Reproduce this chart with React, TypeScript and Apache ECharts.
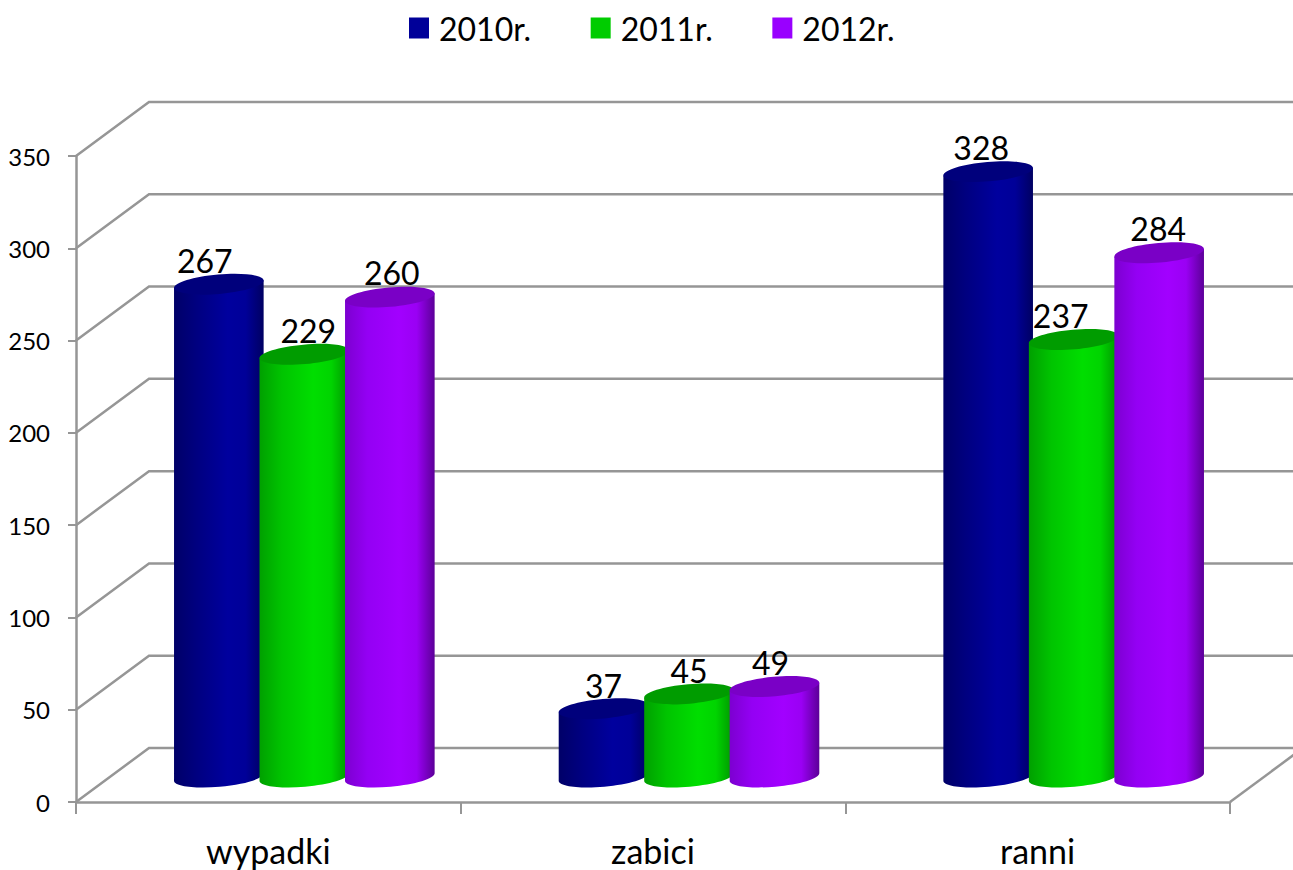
import React, { useEffect, useRef } from "react";
import * as echarts from "echarts";

const categories = ["wypadki", "zabici", "ranni"];
const years = ["2010r.", "2011r.", "2012r."];
const values2010 = [267, 37, 328];
const values2011 = [229, 45, 237];
const values2012 = [260, 49, 284];
const yTicks = [0, 50, 100, 150, 200, 250, 300, 350];

const FONT = "Lato, Carlito, sans-serif";
const GRID_COLOR = "#969696";
const DEPTH_X = 73;
const DEPTH_Y = 54;
const FLOOR_X = 36;
const FLOOR_Y = 25;
const RX = 44.8;
const TILT_Y = 3.9;
const MINOR_X = 0.83;
const MINOR_Y = 9.7;
const KAPPA = 0.5523;
const STEP = 85.5;

const looks = [
  { legend: "#000099", top: "#00007c", stops: ["#000068", "#000080", "#00009e", "#000098", "#000062"] },
  { legend: "#00cc00", top: "#009c00", stops: ["#00a000", "#00c400", "#00de00", "#00d400", "#009400"] },
  { legend: "#9900ff", top: "#7a00c6", stops: ["#7c00d0", "#9400f4", "#a200ff", "#9a00f4", "#5c0098"] },
];

// Label shift from the bar's top centre, per year then per category.
const labelShift = [
  [[-14, -24], [0, -23], [-7, -24]],
  [[4, -24], [0, -23], [-13, -24]],
  [[2, -25], [-4, -24], [-1, -24]],
];

// Half of a tilted ellipse as two cubic curves, from the left tip to the right
// tip through its lower side (side = 1) or from right to left through its upper side (side = -1).
const halfEllipse = (cx: number, cy: number, side: number) => {
  const ax = RX * -side;
  const ay = -TILT_Y * -side;
  const bx = MINOR_X * side;
  const by = MINOR_Y * side;
  const p = (a: number, b: number) =>
    `${(cx + a * ax + b * bx).toFixed(2)} ${(cy + a * ay + b * by).toFixed(2)}`;
  return (
    `C${p(1, KAPPA)} ${p(KAPPA, 1)} ${p(0, 1)} ` +
    `C${p(-KAPPA, 1)} ${p(-1, KAPPA)} ${p(-1, 0)} `
  );
};

const makeBarSeries = (name: string, vals: number[], s: number) => ({
  type: "custom",
  name,
  itemStyle: { color: looks[s].legend },
  encode: { x: 0, y: 1 },
  data: vals.map((v, i) => [i, v]),
  z: 3 + s,
  renderItem: (_p: any, api: any) => {
    const cat = api.value(0);
    const val = api.value(1);
    const [fx, topFront] = api.coord([cat, val]);
    const [, baseFront] = api.coord([cat, 0]);
    const cx = fx + FLOOR_X + (s - 1) * STEP;
    const top = topFront - FLOOR_Y;
    const base = baseFront - FLOOR_Y;
    const look = looks[s];
    const body =
      `M${cx - RX} ${top + TILT_Y} L${cx - RX} ${base + TILT_Y} ` +
      halfEllipse(cx, base, 1) +
      `L${cx + RX} ${top - TILT_Y} Z`;
    const cap =
      `M${cx - RX} ${top + TILT_Y} ` + halfEllipse(cx, top, 1) + halfEllipse(cx, top, -1) + "Z";
    const [dx, dy] = labelShift[s][cat];
    return {
      type: "group",
      children: [
        {
          type: "path",
          shape: { pathData: body },
          style: {
            fill: new echarts.graphic.LinearGradient(0, 0, 1, 0, [
              { offset: 0, color: look.stops[0] },
              { offset: 0.25, color: look.stops[1] },
              { offset: 0.6, color: look.stops[2] },
              { offset: 0.8, color: look.stops[3] },
              { offset: 1, color: look.stops[4] },
            ]),
            stroke: null,
          },
        },
        { type: "path", shape: { pathData: cap }, style: { fill: look.top, stroke: null } },
        {
          type: "text",
          x: cx + dx,
          y: top + dy,
          z2: 50,
          style: {
            text: String(val),
            fill: "#000",
            font: `32px ${FONT}`,
            align: "center",
            verticalAlign: "middle",
          },
        },
      ],
    };
  },
});

const wallSeries = {
  type: "custom",
  name: "wall",
  silent: true,
  encode: { x: 0, y: 1 },
  data: yTicks.map((t) => [0, t]),
  z: 1,
  renderItem: (params: any, api: any) => {
    const sys = params.coordSys;
    const [, y] = api.coord([0, api.value(1)]);
    const children: any[] = [
      {
        type: "polyline",
        shape: {
          points: [
            [sys.x, y],
            [sys.x + DEPTH_X, y - DEPTH_Y],
            [sys.x + sys.width + DEPTH_X, y - DEPTH_Y],
          ],
        },
        style: { stroke: GRID_COLOR, lineWidth: 2.5, fill: "none" },
      },
    ];
    if (api.value(1) === 0) {
      children.push({
        type: "line",
        shape: {
          x1: sys.x + sys.width,
          y1: y,
          x2: sys.x + sys.width + DEPTH_X,
          y2: y - DEPTH_Y,
        },
        style: { stroke: GRID_COLOR, lineWidth: 2.5 },
      });
    }
    return { type: "group", children };
  },
};

export default function App() {
  const ref = useRef<HTMLDivElement>(null);
  useEffect(() => {
    const chart = echarts.init(ref.current!, null, { renderer: "svg" });
    chart.setOption({
      animation: false,
      backgroundColor: "#fff",
      legend: {
        data: years,
        left: 409,
        top: 12,
        padding: 0,
        icon: "rect",
        itemWidth: 20,
        itemHeight: 21,
        itemGap: 59.5,
        selectedMode: false,
        textStyle: { fontFamily: FONT, fontSize: 32, color: "#000", padding: [0, 0, 0, 5] },
      },
      grid: { left: 76, top: 156, width: 1154, height: 646 },
      xAxis: {
        type: "category",
        data: categories,
        axisLine: { lineStyle: { color: GRID_COLOR, width: 2.5 } },
        axisTick: { show: true, length: 12, lineStyle: { color: GRID_COLOR, width: 2 } },
        axisLabel: { color: "#000", fontFamily: FONT, fontSize: 34, margin: 31 },
      },
      yAxis: {
        type: "value",
        min: 0,
        max: 350,
        interval: 50,
        axisLine: { show: true, lineStyle: { color: GRID_COLOR, width: 2.5 } },
        axisTick: { show: true, length: 8, lineStyle: { color: GRID_COLOR, width: 2 } },
        splitLine: { show: false },
        axisLabel: { color: "#000", fontFamily: FONT, fontSize: 24, margin: 26, padding: [5, 0, 0, 0] },
      },
      series: [
        wallSeries,
        makeBarSeries(years[0], values2010, 0),
        makeBarSeries(years[1], values2011, 1),
        makeBarSeries(years[2], values2012, 2),
      ],
    });
    return () => chart.dispose();
  }, []);
  return (
    <div
      ref={ref}
      style={{ position: "absolute", left: 0, top: 0, width: 1293, height: 870 }}
    />
  );
}
